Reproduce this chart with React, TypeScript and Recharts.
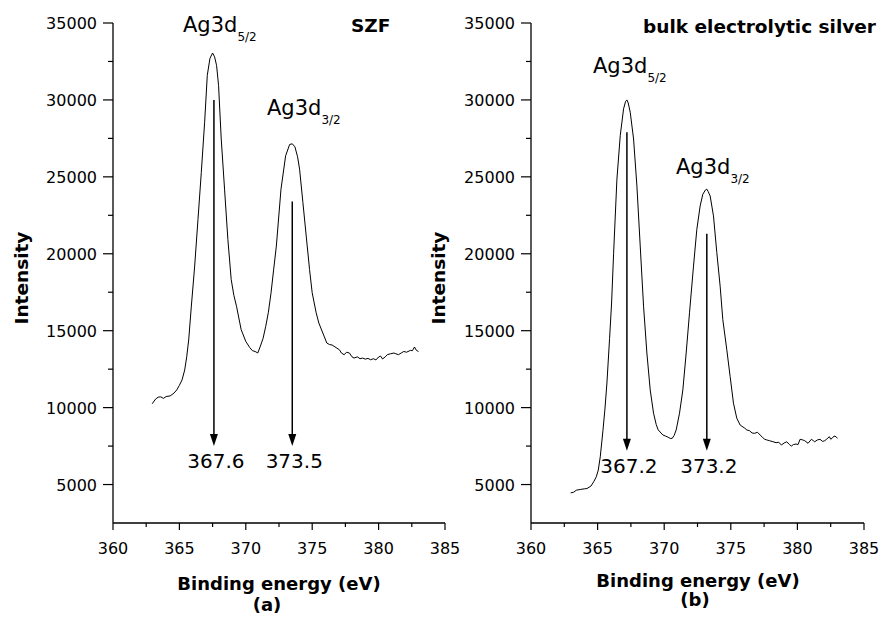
import { LineChart, Line, XAxis, YAxis, ReferenceLine } from 'recharts'

const FONT = '"DejaVu Sans", Arial, sans-serif'

// (a) SZF spectrum
const szfEnergy = [
  362.95, 363.2, 363.4, 363.6, 363.8, 364.0, 364.3, 364.6, 364.8, 365.0, 365.2, 365.4, 365.55, 365.7, 365.9,
  366.15, 366.4, 366.65, 366.9, 367.1, 367.3, 367.5, 367.65, 367.8, 367.95, 368.15, 368.4, 368.65, 368.9, 369.1,
  369.3, 369.65, 370.0, 370.3, 370.5, 370.7, 370.9, 371.1, 371.3, 371.5, 371.7, 371.9, 372.1, 372.3, 372.65,
  373.0, 373.3, 373.5, 373.7, 373.9, 374.05, 374.3, 374.55, 374.8, 375.0, 375.3, 375.5, 375.8, 376.1, 376.3,
  376.5, 376.8, 377.05, 377.2, 377.4, 377.6, 377.8, 378.0, 378.15, 378.4, 378.6, 378.8, 379.0, 379.2, 379.4,
  379.6, 379.8, 380.0, 380.15, 380.3, 380.5, 380.65, 380.9, 381.15, 381.3, 381.5, 381.7, 381.9, 382.1, 382.4,
  382.55, 382.7, 382.85, 383.0,
]
const szfIntensity = [
  10250, 10550, 10680, 10700, 10600, 10720, 10760, 10950, 11150, 11450, 11800, 12450, 13300, 14400, 16600,
  19200, 22240, 25290, 28550, 31600, 32700, 33050, 32800, 32240, 30940, 27460, 24200, 20940, 18330, 17300,
  16590, 15070, 14300, 13900, 13700, 13650, 13550, 14000, 14500, 15280, 16200, 17460, 19000, 20500, 24200,
  26370, 27100, 27150, 26950, 26300, 25500, 23330, 21150, 18980, 17460, 16160, 15500, 14850, 14200, 14100,
  14070, 13900, 13760, 13550, 13440, 13600, 13550, 13300, 13220, 13300, 13180, 13220, 13150, 13200, 13110,
  13180, 13100, 13290, 13350, 13160, 13300, 13440, 13500, 13550, 13500, 13440, 13550, 13650, 13600, 13720,
  13700, 13940, 13720, 13650,
]

// (b) bulk electrolytic silver spectrum
const bulkEnergy = [
  362.98, 363.2, 363.4, 363.7, 364.0, 364.2, 364.5, 364.7, 364.9, 365.05, 365.2, 365.4, 365.55, 365.7, 365.9,
  366.05, 366.2, 366.45, 366.7, 366.95, 367.1, 367.2, 367.3, 367.45, 367.7, 367.95, 368.2, 368.45, 368.7, 368.95,
  369.2, 369.4, 369.55, 369.9, 370.1, 370.3, 370.45, 370.6, 370.75, 370.9, 371.15, 371.4, 371.65, 371.9, 372.2,
  372.45, 372.7, 372.9, 373.1, 373.2, 373.3, 373.45, 373.7, 373.95, 374.2, 374.4, 374.7, 374.95, 375.2, 375.45,
  375.7, 376.05, 376.2, 376.4, 376.6, 376.8, 377.0, 377.2, 377.4, 377.55, 377.7, 377.9, 378.1, 378.4, 378.6,
  378.8, 379.0, 379.2, 379.4, 379.55, 379.7, 379.9, 380.05, 380.2, 380.4, 380.55, 380.8, 381.05, 381.2, 381.3,
  381.5, 381.7, 381.9, 382.05, 382.2, 382.4, 382.5, 382.6, 382.75, 382.9, 383.0,
]
const bulkIntensity = [
  4460, 4500, 4630, 4680, 4720, 4740, 4900, 5170, 5500, 5940, 6800, 8500, 9900, 11600, 14500,
  16800, 20000, 24850, 27680, 29420, 29900, 30000, 29800, 29200, 27460, 24410, 20500, 16590, 13550, 11150,
  9640, 8900, 8550, 8220, 8150, 8070, 8000, 8000, 8200, 8550, 9640, 11150, 13550, 16160, 19200,
  21590, 23110, 23870, 24150, 24200, 24050, 23760, 22460, 20070, 17890, 15720, 13760, 12020, 10290, 9310,
  8870, 8660, 8550, 8500, 8350, 8330, 8400, 8220, 8050, 7940, 7900, 7850, 7800, 7720, 7750,
  7570, 7700, 7780, 7600, 7500, 7600, 7630, 7600, 7940, 7900, 7850, 7680, 7940, 7850, 7780,
  7900, 7940, 7800, 7850, 7950, 8110, 7950, 8000, 8150, 8110, 8000,
]

// peak positions marked with arrows (eV) and where each arrow starts / ends
const szfPeaks = [367.6, 373.5]
const szfArrowTops = [30000, 23400]
const szfArrowTip = 7500
const bulkPeaks = [367.2, 373.2]
const bulkArrowTops = [27900, 21300]
const bulkArrowTip = 7200

const energyTicks = [360, 362.5, 365, 367.5, 370, 372.5, 375, 377.5, 380, 382.5, 385]
const intensityTicks = [5000, 7500, 10000, 12500, 15000, 17500, 20000, 22500, 25000, 27500, 30000, 32500, 35000]

const zip = (xs: number[], ys: number[]) => xs.map((energy, i) => ({ energy, intensity: ys[i] }))
const szfData = zip(szfEnergy, szfIntensity)
const bulkData = zip(bulkEnergy, bulkIntensity)

function YTick({ x, y, payload }: any) {
  const major = payload.value % 5000 === 0
  return (
    <g>
      <line x1={x - (major ? 10 : 5)} x2={x} y1={y} y2={y} stroke="#000" strokeWidth={1.2} />
      {major && (
        <text x={x - 16} y={y + 6} textAnchor="end" fontSize={16} fontFamily={FONT} fill="#000">
          {payload.value}
        </text>
      )}
    </g>
  )
}

function XTick({ x, y, payload }: any) {
  const major = payload.value % 5 === 0
  return (
    <g>
      <line x1={x} x2={x} y1={y} y2={y + (major ? 7 : 4)} stroke="#000" strokeWidth={1.2} />
      {major && (
        <text x={x} y={y + 31} textAnchor="middle" fontSize={16} fontFamily={FONT} fill="#000">
          {payload.value}
        </text>
      )}
    </g>
  )
}

function Arrow({ x1, y1, y2, text }: any) {
  const top = Math.min(y1, y2)
  const tip = Math.max(y1, y2)
  const head = 12
  const half = 4
  return (
    <g>
      <line x1={x1} x2={x1} y1={top} y2={tip - head + 1} stroke="#000" strokeWidth={1.5} />
      <path d={`M${x1 - half},${tip - head} L${x1 + half},${tip - head} L${x1},${tip} Z`} fill="#000" />
      <text x={x1 + 2} y={tip + 22} textAnchor="middle" fontSize={20} fontFamily={FONT} fill="#000">
        {text}
      </text>
    </g>
  )
}

interface PanelProps {
  data: { energy: number; intensity: number }[]
  peaks: number[]
  tops: number[]
  tip: number
  width: number
  axisWidth: number
  right: number
}

function Panel({ data, peaks, tops, tip, width, axisWidth, right }: PanelProps) {
  return (
    <LineChart width={width} height={620} data={data} margin={{ top: 23, right, bottom: 37, left: 0 }}>
      <XAxis
        dataKey="energy"
        type="number"
        domain={[360, 385]}
        ticks={energyTicks}
        interval={0}
        height={60}
        tickSize={0}
        tickMargin={0}
        tickLine={false}
        tick={<XTick />}
        axisLine={{ stroke: '#000', strokeWidth: 1.3 }}
        allowDataOverflow
      />
      <YAxis
        type="number"
        domain={[2500, 35000]}
        ticks={intensityTicks}
        interval={0}
        width={axisWidth}
        tickSize={0}
        tickMargin={0}
        tickLine={false}
        tick={<YTick />}
        axisLine={{ stroke: '#000', strokeWidth: 1.3 }}
        allowDataOverflow
      />
      <Line
        dataKey="intensity"
        type="linear"
        stroke="#000"
        strokeWidth={1}
        dot={false}
        isAnimationActive={false}
      />
      {peaks.map((p, i) => (
        <ReferenceLine
          key={p}
          segment={[{ x: p, y: tops[i] }, { x: p, y: tip }]}
          shape={(props: any) => <Arrow {...props} text={String(p)} />}
        />
      ))}
    </LineChart>
  )
}

function PeakLabel({ x, y, sub }: { x: number; y: number; sub: string }) {
  return (
    <text x={x} y={y} fontSize={21} fontFamily={FONT} fill="#000">
      Ag3d
      <tspan dy={9} fontSize={12}>{sub}</tspan>
    </text>
  )
}

export default function App() {
  const boldText = { fontFamily: FONT, fontWeight: 700, fill: '#000' } as const
  return (
    <div style={{ position: 'absolute', left: 0, top: 0, width: 881, height: 620, background: '#fff' }}>
      <div style={{ position: 'absolute', left: 0, top: 0 }}>
        <Panel data={szfData} peaks={szfPeaks} tops={szfArrowTops} tip={szfArrowTip} width={460} axisWidth={113} right={15} />
      </div>
      <div style={{ position: 'absolute', left: 420, top: 0 }}>
        <Panel data={bulkData} peaks={bulkPeaks} tops={bulkArrowTops} tip={bulkArrowTip} width={461} axisWidth={111} right={17} />
      </div>
      <svg width={881} height={620} style={{ position: 'absolute', left: 0, top: 0, pointerEvents: 'none' }}>
        <PeakLabel x={183} y={32} sub="5/2" />
        <PeakLabel x={267} y={115} sub="3/2" />
        <text x={351} y={32} fontSize={18.5} {...boldText}>SZF</text>
        <PeakLabel x={593} y={73} sub="5/2" />
        <PeakLabel x={676} y={174} sub="3/2" />
        <text x={876} y={33} fontSize={18.5} textAnchor="end" {...boldText}>bulk electrolytic silver</text>

        <text x={28} y={278} fontSize={18.5} textAnchor="middle" transform="rotate(-90 28 278)" {...boldText}>Intensity</text>
        <text x={445} y={278} fontSize={18.5} textAnchor="middle" transform="rotate(-90 445 278)" {...boldText}>Intensity</text>

        <text x={279} y={590} fontSize={18} textAnchor="middle" {...boldText}>Binding energy (eV)</text>
        <text x={267} y={611} fontSize={18} textAnchor="middle" {...boldText}>(a)</text>
        <text x={698} y={587} fontSize={18} textAnchor="middle" {...boldText}>Binding energy (eV)</text>
        <text x={695} y={606} fontSize={18} textAnchor="middle" {...boldText}>(b)</text>
      </svg>
    </div>
  )
}
